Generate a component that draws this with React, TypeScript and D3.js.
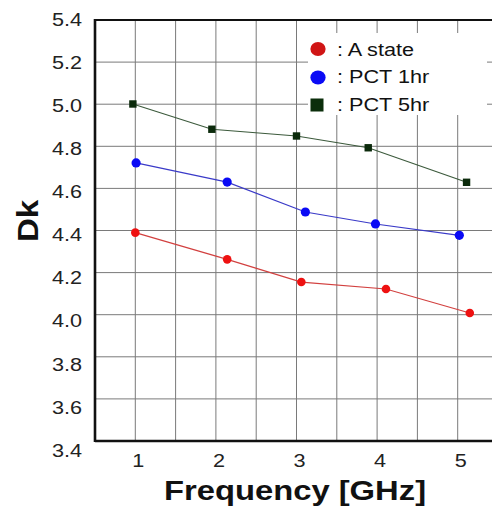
import React from "react";
import * as d3 from "d3";

// Dielectric constant vs. frequency for three conditioning states
const stateA_freq = [1.0, 2.14, 3.06, 4.11, 5.15];
const stateA_dk = [4.39, 4.263, 4.155, 4.122, 4.008];

const pct1_freq = [1.01, 2.14, 3.11, 3.98, 5.02];
const pct1_dk = [4.721, 4.63, 4.488, 4.431, 4.377];

const pct5_freq = [0.97, 1.95, 3.0, 3.89, 5.11];
const pct5_dk = [5.001, 4.881, 4.849, 4.793, 4.629];

const xTicks = [1, 2, 3, 4, 5];
const yTicks = [5.4, 5.2, 5.0, 4.8, 4.6, 4.4, 4.2, 4.0, 3.8, 3.6, 3.4];
const yTickLabels = ["5.4", "5.2", "5.0", "4.8", "4.6", "4.4", "4.2", "4.0", "3.8", "3.6", "3.4"];

const legendLabels = [": A state", ": PCT 1hr", ": PCT 5hr"];

const W = 492;
const H = 510;
const FONT = "Arial, 'Liberation Sans', sans-serif";
const SX = 1.17; // horizontal stretch of the lettering

const x = d3.scaleLinear().domain([0.5, 5.5]).range([95, 498]);
const y = d3.scaleLinear().domain([3.4, 5.4]).range([441, 20]);
// tick labels sit on a slightly wider spacing than the grid
const yLabel = d3.scaleLinear().domain([3.4, 5.4]).range([450, 19]);

type Pt = [number, number];
const zip = (a: number[], b: number[]): Pt[] => a.map((v, i) => [v, b[i]]);

const line = d3
  .line<Pt>()
  .x((d) => x(d[0]))
  .y((d) => y(d[1]));

function SText(props: {
  x: number;
  y: number;
  size: number;
  anchor?: string;
  weight?: string | number;
  rotate?: number;
  fill?: string;
  children: React.ReactNode;
}) {
  const { rotate = 0 } = props;
  return (
    <g transform={`translate(${props.x},${props.y}) rotate(${rotate}) scale(${SX},1)`}>
      <text
        textAnchor={props.anchor || "start"}
        fontFamily={FONT}
        fontSize={props.size}
        fontWeight={props.weight || "normal"}
        fill={props.fill || "#111"}
      >
        {props.children}
      </text>
    </g>
  );
}

export default function App() {
  const vGrid = d3.range(0.5, 5.51, 0.5);
  const hGrid = d3.range(3.6, 5.41, 0.2);
  const red = zip(stateA_freq, stateA_dk);
  const blue = zip(pct1_freq, pct1_dk);
  const green = zip(pct5_freq, pct5_dk);

  return (
    <svg
      width={W}
      height={H}
      style={{ position: "absolute", left: 0, top: 0, background: "#fff" }}
    >
      <rect width={W} height={H} fill="#fff" />
      {/* grid */}
      {vGrid.map((v) => (
        <line key={"v" + v} x1={x(v)} x2={x(v)} y1={y(5.4)} y2={y(3.4)} stroke="#7a7a7a" strokeWidth={1} />
      ))}
      {hGrid.map((v) => (
        <line key={"h" + v} x1={x(0.5)} x2={W} y1={y(v)} y2={y(v)} stroke="#7a7a7a" strokeWidth={1} />
      ))}
      {/* frame */}
      <line x1={x(0.5)} x2={W} y1={y(5.4)} y2={y(5.4)} stroke="#111" strokeWidth={2} />
      <line x1={x(0.5)} x2={W} y1={y(3.4)} y2={y(3.4)} stroke="#111" strokeWidth={2.6} />
      <line x1={x(0.5)} x2={x(0.5)} y1={y(5.4) - 1} y2={y(3.4) + 1} stroke="#111" strokeWidth={2.6} />

      {/* series */}
      <path d={line(red) || ""} fill="none" stroke="#d2403f" strokeWidth={1.2} />
      <path d={line(blue) || ""} fill="none" stroke="#3a3ac8" strokeWidth={1.2} />
      <path d={line(green) || ""} fill="none" stroke="#3c5a3c" strokeWidth={1.2} />
      {red.map((d, i) => (
        <circle key={"r" + i} cx={x(d[0])} cy={y(d[1])} r={4.3} fill="#ee1111" />
      ))}
      {blue.map((d, i) => (
        <circle key={"b" + i} cx={x(d[0])} cy={y(d[1])} r={4.6} fill="#0a0af5" />
      ))}
      {green.map((d, i) => (
        <rect key={"g" + i} x={x(d[0]) - 3.7} y={y(d[1]) - 3.7} width={7.4} height={7.4} fill="#0b2a0b" />
      ))}

      {/* legend */}
      <rect x={308} y={33} width={179} height={82} fill="#fff" />
      <ellipse cx={318} cy={49} rx={7.6} ry={7} fill="#d01515" />
      <ellipse cx={318} cy={77.5} rx={7.6} ry={7} fill="#0a0af5" />
      <rect x={310.5} y={98.5} width={13} height={13} fill="#0b2e0b" />
      {legendLabels.map((t, i) => (
        <SText key={t} x={337} y={55.5 + i * 27.8} size={18.5}>
          {t}
        </SText>
      ))}

      {/* y tick labels */}
      {yTicks.map((v, i) => (
        <SText key={"yt" + v} x={82} y={yLabel(v) + 6.7} size={18.5} anchor="end" fill="#222">
          {yTickLabels[i]}
        </SText>
      ))}
      {/* x tick labels */}
      {xTicks.map((v) => (
        <SText key={"xt" + v} x={x(v) + 3} y={467} size={18.5} anchor="middle" fill="#222">
          {String(v)}
        </SText>
      ))}

      {/* axis titles */}
      <SText x={295} y={500} size={28} weight="bold" anchor="middle">
        Frequency [GHz]
      </SText>
      <g transform={`translate(38,221) rotate(-90) scale(1.14,1)`}>
        <text textAnchor="middle" fontFamily={FONT} fontSize={29} fontWeight="bold" fill="#111">
          Dk
        </text>
      </g>
    </svg>
  );
}
